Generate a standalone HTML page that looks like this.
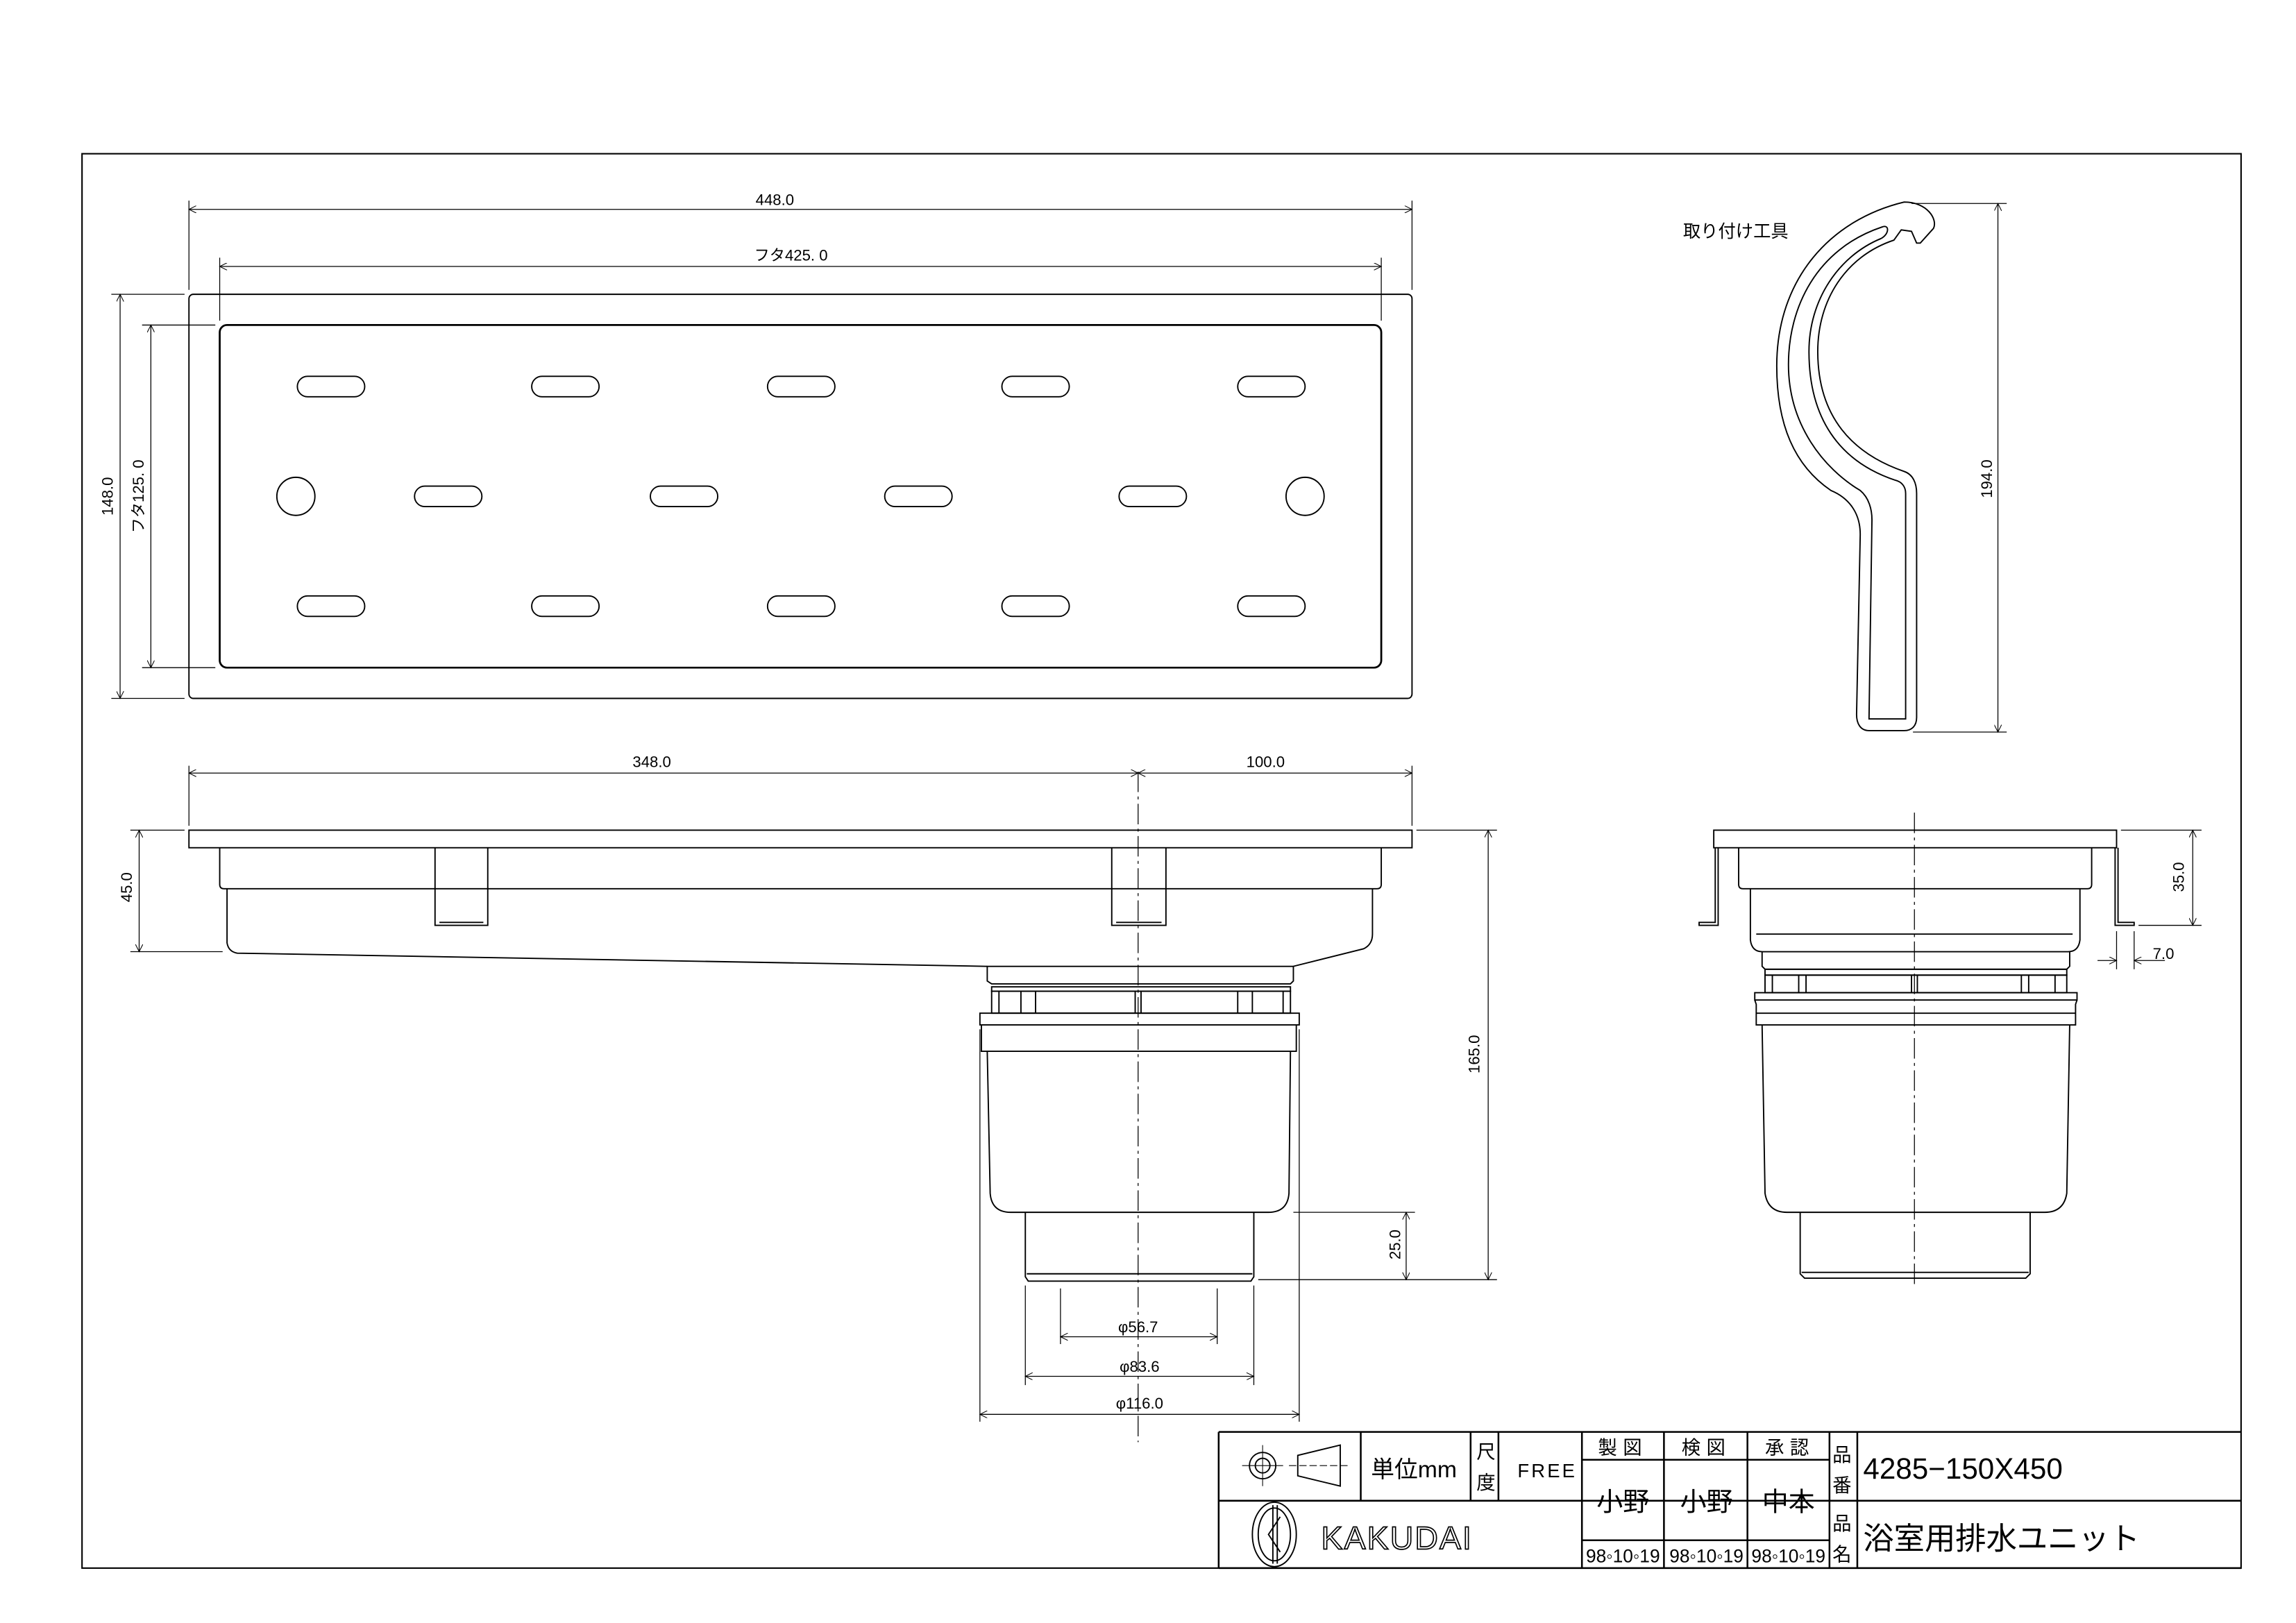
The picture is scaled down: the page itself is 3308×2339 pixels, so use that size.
<!DOCTYPE html>
<html><head><meta charset="utf-8"><style>
html,body{margin:0;padding:0;background:#fff}
svg{display:block}
text{font-family:"Liberation Sans","Noto Sans CJK JP",sans-serif;fill:#000}
</style></head><body>
<svg width="3308" height="2339" viewBox="0 0 1567.5 1108.5" preserveAspectRatio="none" xmlns="http://www.w3.org/2000/svg">
<defs>
<marker id="a" viewBox="0 0 10 10" refX="10" refY="5" markerWidth="7" markerHeight="5" orient="auto-start-reverse" markerUnits="userSpaceOnUse"><path d="M0,0 L10,5 L0,10" fill="none" stroke="#000" stroke-width="1"/></marker>
</defs>
<g fill="none" stroke="#000" stroke-width="0.9">
<rect x="56" y="105" width="1474" height="966" stroke-width="1"/>
<rect x="129" y="201" width="835" height="276" rx="3"/>
<rect x="150" y="222" width="793" height="234" rx="5" stroke-width="1.3"/>
<g>
<rect x="203" y="257" width="46" height="14" rx="7"/><rect x="363" y="257" width="46" height="14" rx="7"/><rect x="524" y="257" width="46" height="14" rx="7"/><rect x="684" y="257" width="46" height="14" rx="7"/><rect x="845" y="257" width="46" height="14" rx="7"/>
<rect x="283" y="332" width="46" height="14" rx="7"/><rect x="444" y="332" width="46" height="14" rx="7"/><rect x="604" y="332" width="46" height="14" rx="7"/><rect x="764" y="332" width="46" height="14" rx="7"/>
<circle cx="202" cy="339" r="13"/><circle cx="891" cy="339" r="13"/>
<rect x="203" y="407" width="46" height="14" rx="7"/><rect x="363" y="407" width="46" height="14" rx="7"/><rect x="524" y="407" width="46" height="14" rx="7"/><rect x="684" y="407" width="46" height="14" rx="7"/><rect x="845" y="407" width="46" height="14" rx="7"/>
</g>
<g stroke-width="0.6">
<line x1="129" y1="198" x2="129" y2="137"/><line x1="964" y1="198" x2="964" y2="137"/>
<line x1="129" y1="143" x2="964" y2="143" marker-start="url(#a)" marker-end="url(#a)"/>
<line x1="150" y1="219" x2="150" y2="176"/><line x1="943" y1="219" x2="943" y2="176"/>
<line x1="150" y1="182" x2="943" y2="182" marker-start="url(#a)" marker-end="url(#a)"/>
<line x1="76" y1="201" x2="126" y2="201"/><line x1="76" y1="477" x2="126" y2="477"/>
<line x1="82" y1="201" x2="82" y2="477" marker-start="url(#a)" marker-end="url(#a)"/>
<line x1="97" y1="222" x2="147" y2="222"/><line x1="97" y1="456" x2="147" y2="456"/>
<line x1="103" y1="222" x2="103" y2="456" marker-start="url(#a)" marker-end="url(#a)"/>
</g>
<rect x="129" y="567" width="835" height="12"/>
<path d="M150,579 V604 Q150,607 153,607 H940 Q943,607 943,604 V579"/>
<path d="M155,607 V644 Q156,650 162,651 L674,660 M883,660 L931,648 Q937,645 937,638 V607"/>
<path d="M297,579 V632 H333 V579 M300,630 H330 M759,579 V632 H796 V579 M762,630 H793"/>
<path d="M674,660 H883 V670 L881,672 H677 L674,670 Z"/>
<rect x="677" y="674" width="204" height="3"/>
<rect x="677" y="677" width="204" height="15"/>
<path d="M682,677 V692 M697,677 V692 M707,677 V692 M775,677 V692 M779,677 V692 M845,677 V692 M855,677 V692 M876,677 V692"/>
<rect x="669" y="692" width="218" height="8"/>
<path d="M670,700 V718 H885 V700 M674,718 L676,815 Q677,828 690,828 H866 Q879,828 880,815 L881,718"/>
<path d="M700,828 V872 L702,875 H854 L856,872 V828 M701,870 H855"/>
<line x1="777" y1="527" x2="777" y2="985" stroke-width="0.6" stroke-dasharray="14 3 2 3"/>
<g stroke-width="0.6">
<line x1="129" y1="523" x2="129" y2="564"/><line x1="964" y1="523" x2="964" y2="564"/>
<line x1="129" y1="528" x2="777" y2="528" marker-start="url(#a)" marker-end="url(#a)"/>
<line x1="777" y1="528" x2="964" y2="528" marker-start="url(#a)" marker-end="url(#a)"/>
<line x1="89" y1="567" x2="126" y2="567"/><line x1="89" y1="650" x2="152" y2="650"/>
<line x1="95" y1="567" x2="95" y2="650" marker-start="url(#a)" marker-end="url(#a)"/>
<line x1="967" y1="567" x2="1022" y2="567"/><line x1="859" y1="874" x2="1022" y2="874"/>
<line x1="1016" y1="567" x2="1016" y2="874" marker-start="url(#a)" marker-end="url(#a)"/>
<line x1="883" y1="828" x2="966" y2="828"/>
<line x1="960" y1="828" x2="960" y2="874" marker-start="url(#a)" marker-end="url(#a)"/>
<line x1="724" y1="880" x2="724" y2="918"/><line x1="831" y1="880" x2="831" y2="918"/>
<line x1="724" y1="913" x2="831" y2="913" marker-start="url(#a)" marker-end="url(#a)"/>
<line x1="700" y1="878" x2="700" y2="946"/><line x1="856" y1="878" x2="856" y2="946"/>
<line x1="700" y1="940" x2="856" y2="940" marker-start="url(#a)" marker-end="url(#a)"/>
<line x1="669" y1="703" x2="669" y2="971"/><line x1="887" y1="703" x2="887" y2="971"/>
<line x1="669" y1="966" x2="887" y2="966" marker-start="url(#a)" marker-end="url(#a)"/>
</g>
<rect x="1170" y="567" width="275" height="12"/>
<path d="M1171,579 V630 H1160 V632 H1173 V579 M1444,579 V632 H1457 V630 H1446 V579"/>
<path d="M1187,579 V604 Q1187,607 1190,607 H1425 Q1428,607 1428,604 V579"/>
<path d="M1195,607 V642 Q1196,650 1203,650 H1412 Q1419,650 1420,642 V607 M1199,638 H1415"/>
<path d="M1203,650 V660 L1205,662 H1411 L1413,660 V650"/>
<rect x="1205" y="662" width="206" height="4"/>
<rect x="1205" y="666" width="206" height="12"/>
<path d="M1210,666 V678 M1228,666 V678 M1233,666 V678 M1305,666 V678 M1309,666 V678 M1380,666 V678 M1385,666 V678 M1403,666 V678"/>
<rect x="1198" y="678" width="220" height="5"/>
<path d="M1198,683 L1199,686 V700 H1417 V686 L1418,683"/>
<path d="M1199,692 H1417 M1203,700 L1205,815 Q1207,828 1220,828 H1396 Q1409,828 1411,815 L1413,700"/>
<path d="M1229,828 V870 L1232,873 H1383 L1386,870 V828 M1230,869 H1385"/>
<line x1="1307" y1="555" x2="1307" y2="880" stroke-width="0.6" stroke-dasharray="14 3 2 3"/>
<g stroke-width="0.6">
<line x1="1448" y1="567" x2="1503" y2="567"/><line x1="1460" y1="632" x2="1503" y2="632"/>
<line x1="1497" y1="567" x2="1497" y2="632" marker-start="url(#a)" marker-end="url(#a)"/>
<line x1="1445" y1="636" x2="1445" y2="662"/><line x1="1457" y1="636" x2="1457" y2="662"/>
<line x1="1432" y1="656" x2="1445" y2="656" marker-end="url(#a)"/><line x1="1478" y1="656" x2="1457" y2="656" marker-end="url(#a)"/>
</g>
<path d="M1300,138 C1316,138 1323,150 1320,156 L1311,166 L1308.5,166 L1305,158 L1298,157 L1293,164 C1260,175 1241,205 1241,240 C1241,285 1265,310 1300,322 C1306,324 1308.5,330 1308.5,337 L1308.5,490 C1308.5,496 1305,499 1300,499 L1276,499 C1270,499 1267.5,494 1267.5,488 L1270,365 C1270,350 1262,340 1250,335 C1225,318 1213,290 1213,250 C1213,190 1250,150 1300,138 Z"/>
<path d="M1285,155 C1240,170 1221,210 1221,249 C1221,290 1245,320 1270,335 C1276,340 1278,348 1278,355 L1276,491 L1301,491 L1301,337 C1301,332 1298,329 1294,328 C1255,315 1235,285 1235,240 C1235,205 1255,175 1284,163 C1290,160 1290,153 1285,155 Z"/>
<g stroke-width="0.6">
<line x1="1305" y1="139" x2="1370" y2="139"/><line x1="1306" y1="500" x2="1370" y2="500"/>
<line x1="1364" y1="139" x2="1364" y2="500" marker-start="url(#a)" marker-end="url(#a)"/>
</g>
<g stroke-width="1.2">
<path d="M832,978 H1530 M832,1025 H1530 M832,1071 H1530 M832,978 V1071"/>
<path d="M929,978 V1025 M1004,978 V1025 M1023,978 V1025 M1080,978 V1071 M1136,978 V1071 M1193,978 V1071 M1249,978 V1071 M1268,978 V1071 M1080,997 H1249 M1080,1052 H1249"/>
</g>
<circle cx="862" cy="1001" r="9"/><circle cx="862" cy="1001" r="5"/>
<path d="M848,1001 H876 M862,987 V1015" stroke-width="0.5"/>
<path d="M886,994 L915,987 V1015 L886,1008 Z"/><path d="M880,1001 H920" stroke-width="0.5" stroke-dasharray="5 2"/>
<ellipse cx="870" cy="1048" rx="15" ry="22"/><ellipse cx="870" cy="1048" rx="11" ry="18"/>
<path d="M869,1028 V1068 M872,1028 V1068 M874,1036 L866,1048 L874,1060"/>
</g>
<g font-size="10.5">
<text x="529" y="140" text-anchor="middle">448.0</text>
<text x="540" y="178" text-anchor="middle">フタ425. 0</text>
<text transform="translate(77,339) rotate(-90)" text-anchor="middle">148.0</text>
<text transform="translate(98,339) rotate(-90)" text-anchor="middle">フタ125. 0</text>
<text x="445" y="524" text-anchor="middle">348.0</text>
<text x="864" y="524" text-anchor="middle">100.0</text>
<text transform="translate(90,606) rotate(-90)" text-anchor="middle">45.0</text>
<text transform="translate(1010,720) rotate(-90)" text-anchor="middle">165.0</text>
<text transform="translate(956,850) rotate(-90)" text-anchor="middle">25.0</text>
<text x="777" y="910" text-anchor="middle">φ56.7</text>
<text x="778" y="937" text-anchor="middle">φ83.6</text>
<text x="778" y="962" text-anchor="middle">φ116.0</text>
<text transform="translate(1491,599) rotate(-90)" text-anchor="middle">35.0</text>
<text x="1477" y="655" text-anchor="middle">7.0</text>
<text transform="translate(1360,327) rotate(-90)" text-anchor="middle">194.0</text>
<text x="1185" y="162" text-anchor="middle" font-size="12">取り付け工具</text>
</g>
<g>
<text x="936" y="1009" font-size="16">単位mm</text>
<text x="1008" y="996" font-size="13">尺</text><text x="1008" y="1017" font-size="13">度</text>
<text x="1036" y="1009" font-size="13" letter-spacing="1.5">FREE</text>
<text x="1108" y="993" font-size="13" text-anchor="middle" letter-spacing="4">製図</text>
<text x="1165" y="993" font-size="13" text-anchor="middle" letter-spacing="4">検図</text>
<text x="1222" y="993" font-size="13" text-anchor="middle" letter-spacing="4">承認</text>
<text x="1108" y="1032" font-size="18" text-anchor="middle">小野</text>
<text x="1165" y="1032" font-size="18" text-anchor="middle">小野</text>
<text x="1221" y="1032" font-size="18" text-anchor="middle">中本</text>
<text x="1108" y="1067" font-size="12.5" text-anchor="middle">98◦10◦19</text>
<text x="1165" y="1067" font-size="12.5" text-anchor="middle">98◦10◦19</text>
<text x="1221" y="1067" font-size="12.5" text-anchor="middle">98◦10◦19</text>
<text x="1251" y="998" font-size="13">品</text><text x="1251" y="1019" font-size="13">番</text>
<text x="1251" y="1045" font-size="13">品</text><text x="1251" y="1066" font-size="13">名</text>
<text x="1272" y="1010" font-size="20">4285−150X450</text>
<text x="1272" y="1058" font-size="21">浴室用排水ユニット</text>
<text x="902" y="1058" font-size="22" stroke="#000" stroke-width="0.8" letter-spacing="1" style="fill:#fff">KAKUDAI</text>
</g>
</svg>
</body></html>
